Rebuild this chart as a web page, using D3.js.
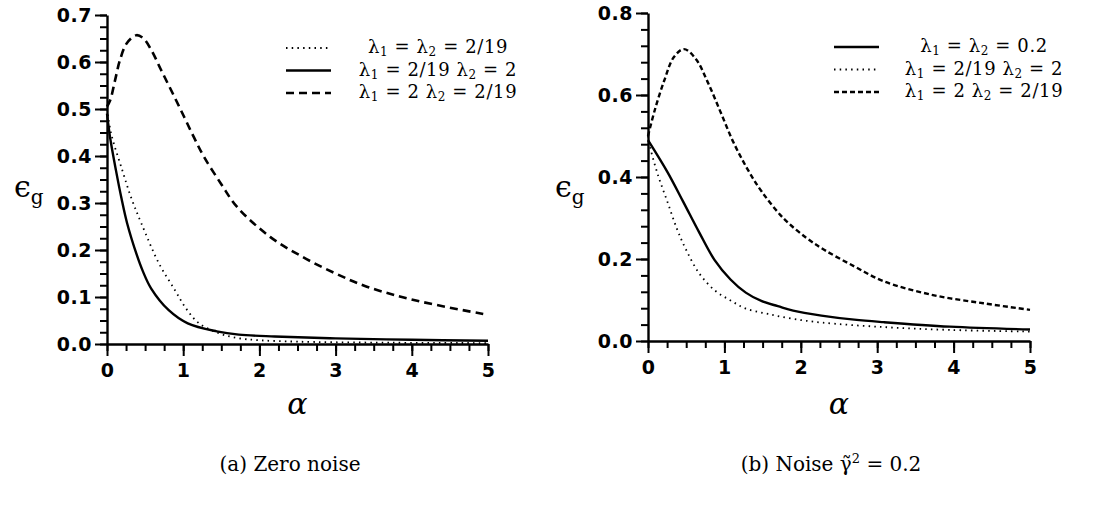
<!DOCTYPE html>
<html><head><meta charset="utf-8">
<script src="https://cdn.jsdelivr.net/npm/d3@7"></script>
<style>body{margin:0;background:#fff}svg{display:block}</style>
</head><body><svg id="c" width="1100" height="507"></svg>
<script>
// ---------- DATA ----------
// Panel (a) zero noise
const aXTicks = [0,1,2,3,4,5];
const aYTicks = [0,0.1,0.2,0.3,0.4,0.5,0.6,0.7];
const aDotAlpha = [0,0.054,0.2,0.32,0.45,0.68,0.89,1.04,1.2,1.45,1.7,2.0,2.5,3.5,5];
const aDotEps   = [0.5,0.448,0.37,0.31,0.257,0.172,0.115,0.075,0.045,0.024,0.013,0.008,0.005,0.003,0.002];
const aSolAlpha = [0,0.04,0.117,0.19,0.264,0.39,0.47,0.58,0.81,1.06,1.44,1.73,2.2,3.0,4.0,5.0];
const aSolEps   = [0.49,0.44,0.37,0.31,0.257,0.19,0.155,0.118,0.072,0.044,0.027,0.02,0.016,0.012,0.009,0.007];
const aDashAlpha = [0,0.043,0.107,0.17,0.26,0.386,0.48,0.58,0.71,0.86,1.01,1.14,1.27,1.5,1.71,2.14,2.57,3.0,3.41,4.07,5];
const aDashEps   = [0.505,0.519,0.562,0.604,0.64,0.657,0.65,0.626,0.583,0.534,0.484,0.44,0.399,0.34,0.291,0.228,0.185,0.15,0.122,0.092,0.062];
const aLegend = [["λ","1"," = ","λ","2"," = 2/19"],["λ","1"," = 2/19 ","λ","2"," = 2"],["λ","1"," = 2 ","λ","2"," = 2/19"]];
// Panel (b) noise 0.2
const bXTicks = [0,1,2,3,4,5];
const bYTicks = [0,0.2,0.4,0.6,0.8];
const bSolAlpha = [0,0.255,0.46,0.67,0.87,1.08,1.28,1.49,1.7,1.9,2.27,2.7,3.08,3.95,5];
const bSolEps   = [0.49,0.412,0.34,0.265,0.198,0.15,0.118,0.097,0.085,0.074,0.062,0.052,0.046,0.035,0.028];
const bDotAlpha = [0,0.03,0.13,0.255,0.38,0.5,0.67,0.87,1.08,1.28,1.57,1.9,2.27,3.08,3.95,5];
const bDotEps   = [0.5,0.471,0.405,0.339,0.273,0.222,0.165,0.124,0.099,0.079,0.066,0.054,0.045,0.034,0.027,0.023];
const bDashAlpha = [0,0.09,0.214,0.337,0.47,0.626,0.79,0.955,1.12,1.3,1.49,1.78,2.07,2.31,2.7,3.08,3.73,4.39,5];
const bDashEps   = [0.5,0.564,0.636,0.692,0.712,0.688,0.628,0.556,0.484,0.42,0.364,0.298,0.252,0.222,0.182,0.146,0.112,0.092,0.076];
const bLegend = [["λ","1"," = ","λ","2"," = 0.2"],["λ","1"," = 2/19 ","λ","2"," = 2"],["λ","1"," = 2 ","λ","2"," = 2/19"]];
// ---------- DRAW ----------
const svg = d3.select("#c");
const styles = {
  dot:  {w:1.8, dash:"1.5,4.2"},
  sol:  {w:2.4, dash:null},
  dash: {w:2.6, dash:"8,5"},
  dashB:{w:2.4, dash:"5,3"}
};
function panel(o){
  const x = d3.scaleLinear().domain([0,5]).range([o.x0,o.x1]);
  const y = d3.scaleLinear().domain([0,o.ymax]).range([o.y0,o.y1]);
  const g = svg.append("g");
  const xm = d3.range(0,5.0001,0.25);
  const ym = d3.range(0,o.ymax+1e-9,o.ystep);
  g.append("g").attr("transform",`translate(0,${o.y0})`)
    .call(d3.axisBottom(x).tickValues(xm).tickSize(7).tickFormat("").tickSizeOuter(0))
    .call(s=>s.select(".domain").remove());
  g.append("g").attr("transform",`translate(${o.x0},0)`)
    .call(d3.axisLeft(y).tickValues(ym).tickSize(7).tickFormat("").tickSizeOuter(0))
    .call(s=>s.select(".domain").remove());
  g.append("g").attr("transform",`translate(0,${o.y0})`)
    .call(d3.axisBottom(x).tickValues(o.xt).tickSize(12).tickPadding(8).tickFormat(d3.format("d")).tickSizeOuter(0));
  g.append("g").attr("transform",`translate(${o.x0},0)`)
    .call(d3.axisLeft(y).tickValues(o.yt).tickSize(12).tickPadding(3).tickFormat(d3.format(".1f")).tickSizeOuter(0));
  g.selectAll(".tick line").attr("stroke","#000").attr("stroke-width",2);
  g.selectAll(".domain").attr("stroke","#000").attr("stroke-width",2.4);
  g.selectAll(".tick text").attr("fill","#000")
    .style("font-family","'DejaVu Sans'").style("font-weight","bold").style("font-size","19px")
    .style("letter-spacing","0.5px");
  const line = d3.line().x(d=>x(d[0])).y(d=>y(d[1])).curve(d3.curveCatmullRom.alpha(0.5));
  o.series.forEach(s=>{
    const st = styles[s.st];
    g.append("path").datum(d3.zip(s.a,s.e)).attr("d",line)
      .attr("fill","none").attr("stroke","#000").attr("stroke-width",st.w)
      .attr("stroke-dasharray",st.dash).attr("stroke-linecap","butt");
  });
  // legend
  o.legend.forEach((parts,i)=>{
    const st = styles[o.series[i].st];
    const ly = o.ly + i*22.5;
    g.append("line").attr("x1",o.lx0).attr("x2",o.lx1).attr("y1",ly).attr("y2",ly)
      .attr("stroke","#000").attr("stroke-width",st.w).attr("stroke-dasharray",st.dash);
    const t = g.append("text").attr("x",o.tx).attr("y",ly+5).attr("text-anchor","middle")
      .style("font-family","'DejaVu Serif'").style("font-size","18px").style("letter-spacing","0.6px");
    parts.forEach((p,j)=>{
      const ts = t.append("tspan").text(p);
      if(j===1||j===4){ ts.style("font-size","12px").attr("dy",3); }
      else if(j===2||j===5){ ts.attr("dy",-3); }
    });
  });
  // y label
  const yl = g.append("text").attr("x",o.elx).attr("y",197)
    .style("font-family","'DejaVu Serif'");
  yl.append("tspan").style("font-size","30px").text("ϵ");
  yl.append("tspan").style("font-size","20px").attr("dy",7).text("g");
  // x label
  g.append("text").attr("x",(o.x0+o.x1)/2).attr("y",414).attr("text-anchor","middle")
    .style("font-family","'DejaVu Serif'").style("font-style","italic").style("font-size","30px").text("α");
  // caption
  const cap = g.append("text").attr("x",o.cx).attr("y",471).attr("text-anchor","middle")
    .style("font-family","'DejaVu Serif'").style("font-size","20px");
  o.caption(cap);
}
panel({x0:107,x1:488,y0:344,y1:15,ymax:0.7,ystep:0.025,xt:aXTicks,yt:aYTicks,
  series:[{a:aDotAlpha,e:aDotEps,st:"dot"},{a:aSolAlpha,e:aSolEps,st:"sol"},{a:aDashAlpha,e:aDashEps,st:"dash"}],
  legend:aLegend,ly:48,lx0:286,lx1:331,tx:438,elx:14,cx:290,
  caption:c=>c.text("(a) Zero noise")});
panel({x0:648,x1:1030,y0:341,y1:13,ymax:0.8,ystep:0.04,xt:bXTicks,yt:bYTicks,
  series:[{a:bSolAlpha,e:bSolEps,st:"sol"},{a:bDotAlpha,e:bDotEps,st:"dot"},{a:bDashAlpha,e:bDashEps,st:"dashB"}],
  legend:bLegend,ly:47,lx0:834,lx1:879,tx:984,elx:555,cx:831,
  caption:c=>{c.append("tspan").text("(b) Noise γ\u0303");c.append("tspan").attr("dy",-8).style("font-size","13px").text("2");c.append("tspan").attr("dy",8).text(" = 0.2");}});
</script></body></html>
